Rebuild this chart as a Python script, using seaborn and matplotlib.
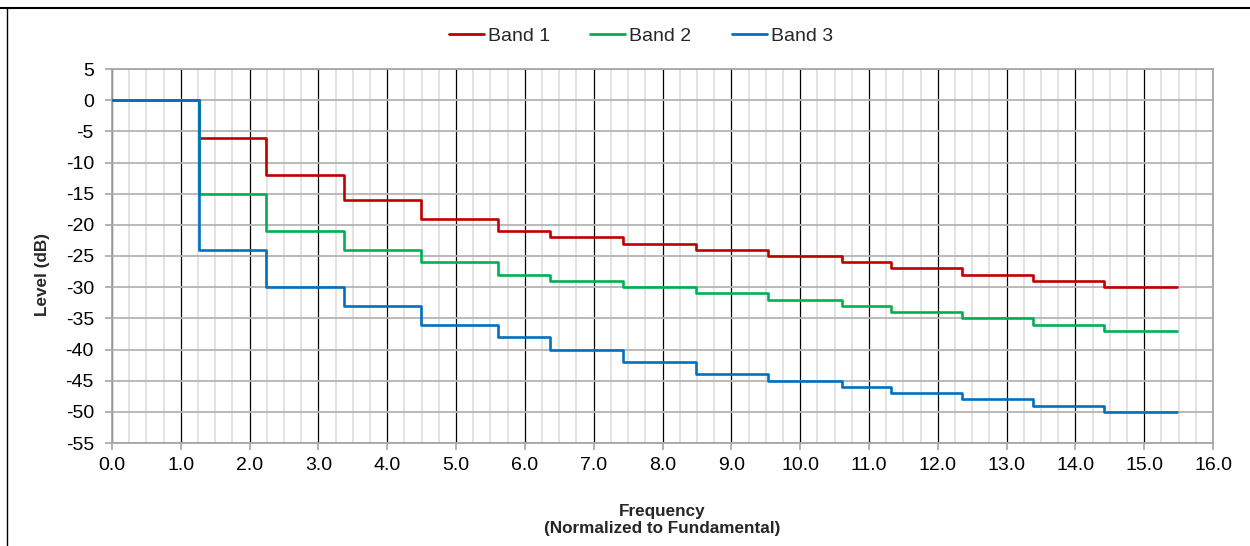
import matplotlib
matplotlib.use("Agg")
import matplotlib.pyplot as plt
from matplotlib.lines import Line2D
from matplotlib.ticker import MultipleLocator
import seaborn as sns
import pandas as pd

# ---- data ----
edges = [0.0, 1.26, 2.24, 3.37, 4.49, 5.61, 6.37, 7.43, 8.49, 9.53,
         10.61, 11.32, 12.35, 13.39, 14.42, 15.47]
band1 = [0, -6, -12, -16, -19, -21, -22, -23, -24, -25, -26, -27, -28, -29, -30, -30]
band2 = [0, -15, -21, -24, -26, -28, -29, -30, -31, -32, -33, -34, -35, -36, -37, -37]
band3 = [0, -24, -30, -33, -36, -38, -40, -42, -44, -45, -46, -47, -48, -49, -50, -50]
series_names = ["Band 1", "Band 2", "Band 3"]
x_ticks = [float(i) for i in range(0, 17)]
y_ticks = list(range(-55, 10, 5))

colors = {"Band 1": "#C00000", "Band 2": "#00B050", "Band 3": "#0070C0"}

rows = []
for name, vals in zip(series_names, [band1, band2, band3]):
    for x, y in zip(edges, vals):
        rows.append({"Frequency": x, "Level": y, "Band": name})
df = pd.DataFrame(rows)

sns.set_theme(style="white")
plt.rcParams["font.family"] = ["Liberation Sans", "DejaVu Sans"]

fig = plt.figure(figsize=(12.5, 5.46), dpi=100)
W, H = 1250, 546
left, right, top, bottom = 112, 1213, 69, 443
ax = fig.add_axes([left / W, 1 - bottom / H, (right - left) / W, (bottom - top) / H])

sns.lineplot(data=df, x="Frequency", y="Level", hue="Band", hue_order=series_names,
             palette=colors, estimator=None, drawstyle="steps-post", linewidth=1.9,
             ax=ax, legend=True, zorder=5)

ax.set_xlim(0, 16)
ax.set_ylim(-55, 5)
ax.set_xticks(x_ticks)
ax.set_xticklabels([f"{v:.1f}" for v in x_ticks])
ax.set_yticks(y_ticks)
ax.set_yticklabels([str(v) for v in y_ticks])
ax.xaxis.set_minor_locator(MultipleLocator(0.25))

ax.grid(False)
ax.grid(which="minor", axis="x", color="#dedede", linewidth=1.2, zorder=1)
ax.grid(which="major", axis="x", color="#000000", linewidth=0.9, zorder=2)
ax.grid(which="major", axis="y", color="#b4b4b4", linewidth=1.3, zorder=2)
ax.set_axisbelow(True)

for s in ax.spines.values():
    s.set_color("#a6a6a6")
    s.set_linewidth(1.3)

ax.tick_params(axis="both", which="major", direction="out", length=5, width=1.2,
               color="#a6a6a6", labelsize=14, labelcolor="#000000")
ax.tick_params(axis="y", which="major", pad=8)
ax.tick_params(axis="x", which="major", pad=5)
ax.tick_params(axis="x", which="minor", length=0)
ax.tick_params(left=True, bottom=True)

ax.set_ylabel("Level (dB)", fontsize=12.3, fontweight="bold")
ax.yaxis.label.set_va("center")
ax.yaxis.set_label_coords((42 - left) / (right - left), 1 - (274 - top) / (bottom - top))
ax.set_xlabel("Frequency\n(Normalized to Fundamental)", fontsize=12.3, fontweight="bold",
              linespacing=1.1)
ax.xaxis.label.set_va("center")
ax.xaxis.set_label_coords((662 - left) / (right - left), -(520 - bottom) / (bottom - top))

leg = ax.legend(loc="center", bbox_to_anchor=((641 - left) / (right - left), 1 + (top - 36) / (bottom - top)),
                ncol=3, frameon=False, fontsize=14, handlelength=1.8, handletextpad=0.2,
                columnspacing=2.1)
for h in leg.get_lines():
    h.set_linewidth(2.0)

# outer frame lines (top and left) as in the reference
fig.add_artist(Line2D([0, 1], [1 - 8 / H, 1 - 8 / H], transform=fig.transFigure,
                      color="#000000", linewidth=1.5))
fig.add_artist(Line2D([7 / W, 7 / W], [0, 1 - 8 / H], transform=fig.transFigure,
                      color="#000000", linewidth=1.0))

fig.savefig("out.png", dpi=100)
